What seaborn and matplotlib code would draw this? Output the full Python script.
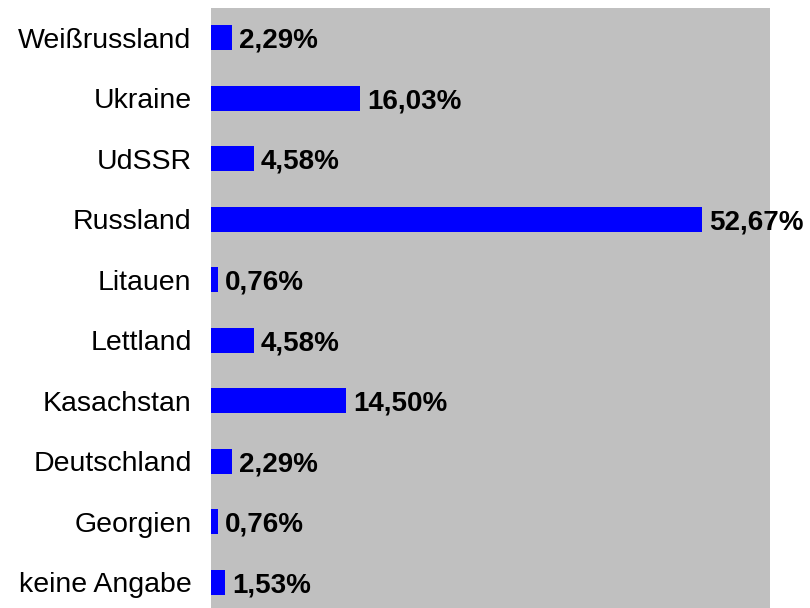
import matplotlib
matplotlib.use("Agg")
import matplotlib.pyplot as plt
import seaborn as sns
import pandas as pd

# Data (top to bottom)
laender = ['Weißrussland', 'Ukraine', 'UdSSR', 'Russland', 'Litauen',
           'Lettland', 'Kasachstan', 'Deutschland', 'Georgien', 'keine Angabe']
anteile = [2.29, 16.03, 4.58, 52.67, 0.76, 4.58, 14.50, 2.29, 0.76, 1.53]

df = pd.DataFrame({'Land': laender, 'Anteil': anteile})

sns.set_style("white")
plt.rcParams['font.family'] = ['Liberation Sans', 'DejaVu Sans']

fig = plt.figure(figsize=(8.1, 6.08), dpi=100)
ax = fig.add_axes([211 / 810, -4.5 / 608, 559 / 810, 605 / 608])

sns.barplot(data=df, x='Anteil', y='Land', orient='h', color='#0000FF',
            saturation=1, width=0.41, linewidth=0, ax=ax)

ax.set_facecolor('#C0C0C0')
ax.set_xlim(0, 60)
ax.set_ylim(9.5, -0.5)
ax.set_xlabel('')
ax.set_ylabel('')
ax.set_xticks([])
for s in ax.spines.values():
    s.set_visible(False)
ax.tick_params(axis='y', length=0, pad=14, labelsize=20.5, labelcolor='black')

# value labels, German decimal comma
labels = [f"{v:.2f}".replace('.', ',') + '%' for v in anteile]
txts = ax.bar_label(ax.containers[0], labels=labels, padding=5,
                    fontsize=20, fontweight='bold', color='black', clip_on=False)
for t in txts:
    t.set_va('center_baseline')

fig.savefig('out.png', dpi=100)
